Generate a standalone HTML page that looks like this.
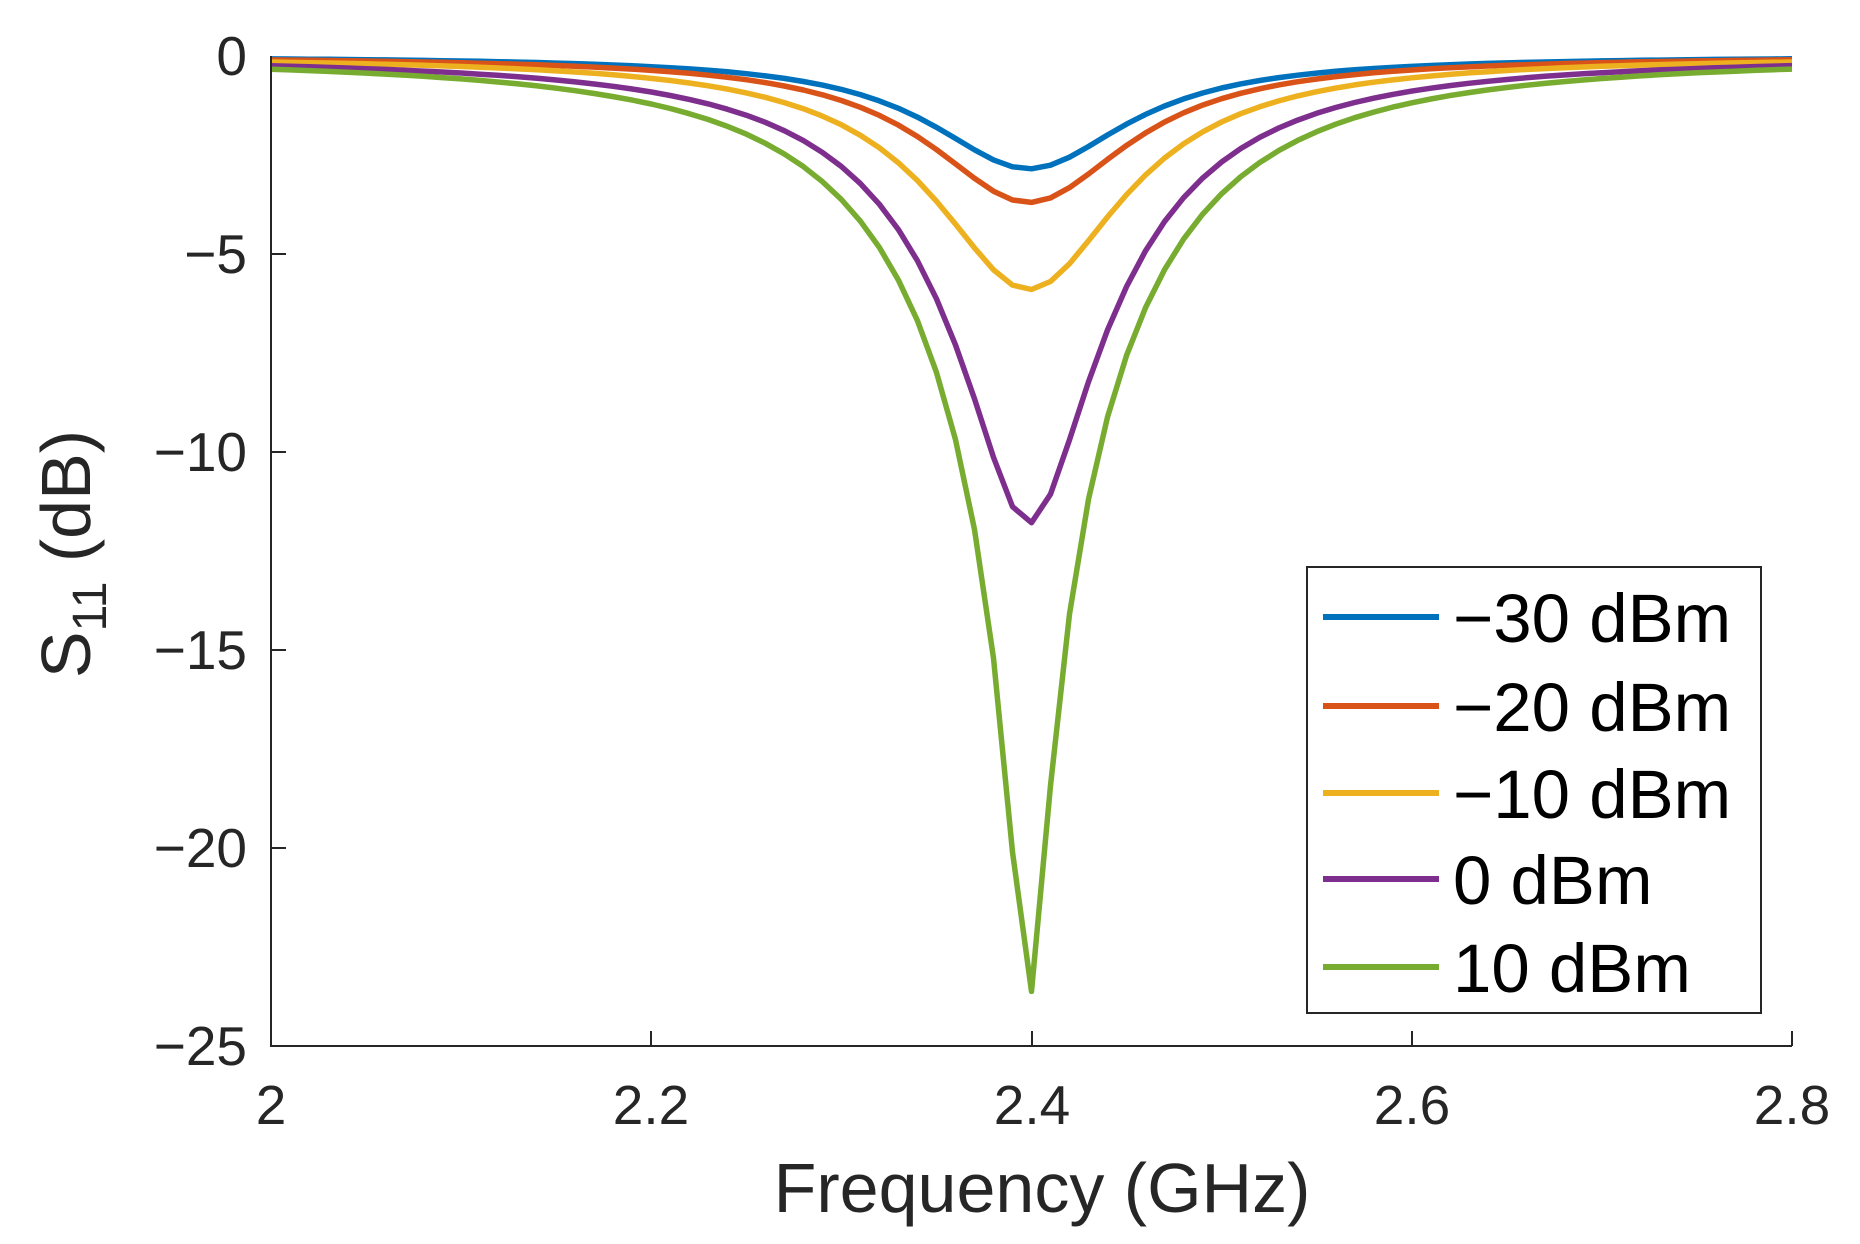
<!DOCTYPE html>
<html><head><meta charset="utf-8"><style>
html,body{margin:0;padding:0;background:#fff;}
svg{display:block;font-family:"Liberation Sans",sans-serif;}
</style></head><body>
<svg id="s" width="1860" height="1244" viewBox="0 0 1860 1244" xmlns="http://www.w3.org/2000/svg">
<rect width="1860" height="1244" fill="#fff"/>
<g id="curves" fill="none" stroke-width="5.5" stroke-linejoin="round"></g>
<g stroke="#262626" stroke-width="2" fill="none">
<path d="M271 56 V1046 H1792"/>
<path d="M651 1046 v-15 M1032 1046 v-15 M1412 1046 v-15 M1792 1046 v-15"/>
<path d="M271 254 h15 M271 452 h15 M271 650 h15 M271 848 h15"/>
</g>
<g fill="#262626" font-size="55" text-anchor="end">
<text x="247" y="75">0</text>
<text x="247" y="273">−5</text>
<text x="247" y="471">−10</text>
<text x="247" y="669">−15</text>
<text x="247" y="867">−20</text>
<text x="247" y="1065">−25</text>
</g>
<g fill="#262626" font-size="55" text-anchor="middle">
<text x="271" y="1124">2</text>
<text x="651" y="1124">2.2</text>
<text x="1032" y="1124">2.4</text>
<text x="1412" y="1124">2.6</text>
<text x="1792" y="1124">2.8</text>
<text x="1042" y="1212" font-size="70">Frequency (GHz)</text>
</g>
<text transform="translate(90,554) rotate(-90)" text-anchor="middle" font-size="70" fill="#262626">S<tspan font-size="48" dy="16">11</tspan><tspan dy="-16">  (dB)</tspan></text>
<rect x="1307" y="567" width="454" height="446" fill="#fff" stroke="#262626" stroke-width="2"/>
<g stroke-width="6">
<line x1="1323" x2="1439" y1="617" y2="617" stroke="#0072BD"/>
<line x1="1323" x2="1439" y1="706" y2="706" stroke="#D95319"/>
<line x1="1323" x2="1439" y1="793" y2="793" stroke="#EDB120"/>
<line x1="1323" x2="1439" y1="879" y2="879" stroke="#7E2F8E"/>
<line x1="1323" x2="1439" y1="967" y2="967" stroke="#77AC30"/>
</g>
<g font-size="69" fill="#000">
<text x="1453" y="642">−30 dBm</text>
<text x="1453" y="731">−20 dBm</text>
<text x="1453" y="818">−10 dBm</text>
<text x="1453" y="904">0 dBm</text>
<text x="1453" y="992">10 dBm</text>
</g>
</svg>
<script>
var mins=[-2.85,-3.7,-5.9,-11.8,-23.8],ws=[0.075,0.08,0.088,0.1,0.113];
var cols=["#0072BD","#D95319","#EDB120","#7E2F8E","#77AC30"];
var g=document.getElementById("curves"),f0=2.3985;
for(var k=0;k<5;k++){
 var A=1-Math.pow(10,mins[k]/10),d="";
 for(var i=0;i<=80;i++){
  var f=2+i*0.01,L=1/(1+Math.pow((f-f0)/ws[k],2));
  var db=10*Math.log10(1-A*L);
  var x=271+(f-2)/0.8*1521,y=56-db*39.6;
  d+=(i?"L":"M")+x.toFixed(1)+" "+y.toFixed(1);
 }
 var p=document.createElementNS("http://www.w3.org/2000/svg","path");
 p.setAttribute("d",d);p.setAttribute("stroke",cols[k]);g.appendChild(p);
}
</script>
</body></html>
